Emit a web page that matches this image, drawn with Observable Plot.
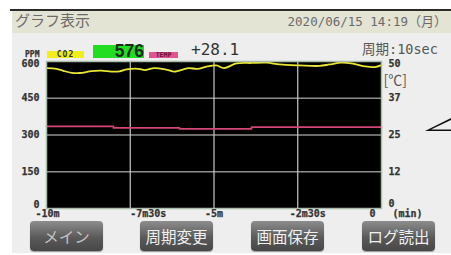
<!DOCTYPE html>
<html>
<head>
<meta charset="utf-8">
<script src="https://cdn.jsdelivr.net/npm/d3@7"></script>
<script src="https://cdn.jsdelivr.net/npm/@observablehq/plot@0.6"></script>
<style>
  html, body { margin: 0; padding: 0; background: #fff; }
  #root { position: relative; width: 451px; height: 255px; overflow: hidden; background: #fff; font-family: "Noto Sans CJK JP", sans-serif; }
  .abs { position: absolute; }
  .btn { position: absolute; top: 221px; width: 73px; height: 30px; border-radius: 4px;
         background: linear-gradient(#8d8d8d, #5a5a5a 55%, #474747); box-shadow: 0 1px 1px rgba(0,0,0,0.35);
         color: #f0f0f0; font-size: 15.5px; line-height: 30px; text-align: center; font-family: "Noto Sans CJK JP", sans-serif; }
  .pix { font-family: "DejaVu Sans Mono", monospace; font-weight: bold; }
</style>
</head>
<body>
<div id="root">
  <div class="abs" style="left:10px; top:9px; width:441px; height:2px; background:#2b2b2b"></div>
  <div class="abs" style="left:12px; top:11px; width:439px; height:22px; background:#e4e4d5"></div>
  <div class="abs" style="left:12px; top:33px; width:439px; height:220px; background:#eeeeee"></div>
  <div class="abs" style="left:15px; top:10px; font-size:15px; color:#6a6a6a; line-height:20px">グラフ表示</div>
  <div class="abs" style="right:4px; top:11px; font-size:12.5px; color:#6a6a6a; line-height:20px; font-family:'DejaVu Sans Mono','Noto Sans CJK JP',monospace">2020/06/15 14:19<span style="font-family:'Noto Sans CJK JP'; font-size:13px">（月）</span></div>
  <div class="abs" style="left:362px; top:38px; font-size:13.5px; color:#555; line-height:20px; font-family:'Noto Sans CJK JP'">周期<span style="font-family:'DejaVu Sans Mono'">:10sec</span></div>

  <div class="abs pix" style="left:47px; top:51px; width:37px; height:7px; background:#f2ee1a; font-size:8px; line-height:7px; text-align:center; color:#333; letter-spacing:1px">CO2</div>
  <div class="abs" style="left:93px; top:45px; width:51px; height:13px; background:#22dd22"></div>
  <div class="abs" id="co2val" style="left:93px; top:41px; width:51px; text-align:right; font-family:'Liberation Sans',sans-serif; font-weight:bold; font-size:17.5px; line-height:20px; color:#1d2a1d"></div>
  <div class="abs pix" style="left:149px; top:52px; width:29px; height:6px; background:#e05590; font-size:6.5px; line-height:6px; text-align:center; color:#6a1030">TEMP</div>
  <div class="abs" id="tempval" style="left:191px; top:40px; font-family:'DejaVu Sans Mono',monospace; font-size:16px; line-height:20px; color:#333"></div>

  <div id="chart" class="abs" style="left:0; top:40px"></div>

  <svg class="abs" style="left:420px; top:112px" width="31" height="22"><polygon points="31,6 5,19 31,19 31,17.5 11,17.5 31,8" fill="#111"/></svg>

  <div class="btn" style="left:30px; color:#c4c4c4">メイン</div>
  <div class="btn" style="left:140px">周期変更</div>
  <div class="btn" style="left:251px">画面保存</div>
  <div class="btn" style="left:362px">ログ読出</div>
</div>
<script>
// ---- data ----
const co2Minutes = [-10, -9.7, -9.5, -9.25, -9.0, -8.66, -8.36, -8.06, -7.82, -7.6, -7.25, -7.07, -6.78, -6.4, -6.18, -5.76, -5.5, -5.2, -4.93, -4.7, -4.33, -3.88, -3.43, -3.04, -2.45, -1.85, -1.55, -1.2, -0.9, -0.5, -0.2, 0];
const co2Ppm     = [573, 570, 562, 554, 553, 561, 563, 559, 560, 568, 570, 565, 573, 566, 559, 573, 570, 580, 584, 573, 592, 594, 595, 588, 584, 582, 588, 595, 592, 580, 577, 585];
const tempMinutes = [-10, -8, -6.03, -3.88, 0];
const tempC       = [27.9, 27.4, 27.1, 27.7, 27.7];
const co2Current = "576";
const tempCurrent = "+28.1";
const ppmTicks = [0, 150, 300, 450, 600];
const ppmLabels = ["0", "150", "300", "450", "600"];
const tempLabels = ["0", "12", "25", "37", "50"];
const tempMax = 50;
const ppmMax = 600;
const xTicks = [-10, -7.5, -5, -2.5, 0];
const xLabels = ["-10m", "-7m30s", "-5m", "-2m30s", "0"];

// ---- styling ----
const xLabelDx = [1, 18, 0, 10, -9];
const yLeftDy = [-4, 0, 0, 0, 2.5];
const yRightDy = [-5, 0, 0, 0, 2];

document.getElementById("co2val").textContent = co2Current;
document.getElementById("tempval").textContent = tempCurrent;

const co2 = co2Minutes.map((m, i) => ({m, v: co2Ppm[i]}));
const temp = tempMinutes.map((m, i) => ({m, v: tempC[i] * ppmMax / tempMax}));

const pixFont = {fontFamily: "DejaVu Sans Mono", fontWeight: "bold", fontSize: 10, fill: "#333", stroke: "#333", strokeWidth: 0.25};

const marks = [
  Plot.frame({fill: "black"}),
  Plot.ruleY([150, 300, 450], {stroke: "#8f8f8f", strokeWidth: 1.6}),
  Plot.ruleX([-7.5, -5, -2.5], {stroke: "#c9c9c9", strokeWidth: 1.2}),
  Plot.line(temp, {x: "m", y: "v", stroke: "#d4457a", strokeWidth: 1.8, curve: "step-after"}),
  Plot.line(co2, {x: "m", y: "v", stroke: "#e9e636", strokeWidth: 1.8, curve: "catmull-rom"}),
  Plot.frame({stroke: "#a9bca9", strokeWidth: 1.5})
];
ppmTicks.forEach((t, i) => {
  marks.push(Plot.text([t], {y: d => d, text: () => ppmLabels[i], frameAnchor: "left", textAnchor: "end", dx: -7, dy: yLeftDy[i], ...pixFont, style: "letter-spacing:1.3px"}));
  marks.push(Plot.text([t], {y: d => d, text: () => tempLabels[i], frameAnchor: "right", textAnchor: "start", dx: 7, dy: yRightDy[i], ...pixFont, style: "letter-spacing:1.3px"}));
});
xTicks.forEach((t, i) => {
  marks.push(Plot.text([t], {x: d => d, text: () => xLabels[i], frameAnchor: "bottom", lineAnchor: "middle", dy: 5.5, dx: xLabelDx[i], ...pixFont, style: "letter-spacing:1px"}));
});
marks.push(Plot.text(["PPM"], {text: d => d, frameAnchor: "top-left", textAnchor: "end", lineAnchor: "middle", dx: -7, dy: -7.5, ...pixFont, fontSize: 8, style: "letter-spacing:1.2px"}));
marks.push(Plot.text(["(min)"], {text: d => d, frameAnchor: "bottom-right", textAnchor: "start", lineAnchor: "middle", dx: 11, dy: 5.5, ...pixFont, style: "letter-spacing:1px"}));
marks.push(Plot.text(["[℃]"], {text: d => d, frameAnchor: "top-right", textAnchor: "start", lineAnchor: "middle", dx: 2, dy: 19, fontFamily: "Noto Sans CJK JP", fontSize: 14, fill: "#555"}));

const chart = Plot.plot({
  width: 451,
  height: 190,
  marginTop: 21,
  marginBottom: 22,
  marginLeft: 46,
  marginRight: 70,
  style: {background: "transparent", overflow: "visible"},
  x: {domain: [-10, 0], axis: null},
  y: {domain: [0, ppmMax], axis: null},
  marks
});
document.getElementById("chart").appendChild(chart);
</script>
</body>
</html>
